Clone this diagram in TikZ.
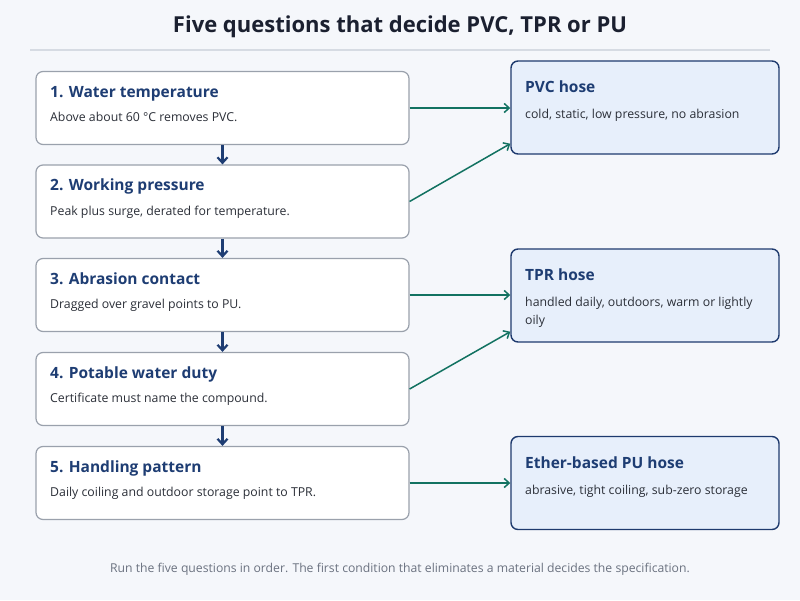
\documentclass[tikz,border=0pt]{standalone}
\usepackage{fontspec}
\setmainfont{Open Sans}
\usetikzlibrary{arrows.meta,calc}
\definecolor{bg}{HTML}{F5F7FB}
\definecolor{titlec}{HTML}{1B2030}
\definecolor{headc}{HTML}{1E3D73}
\definecolor{descc}{HTML}{2B2F38}
\definecolor{qborder}{HTML}{9AA1AC}
\definecolor{rfill}{HTML}{E7EFFB}
\definecolor{rborder}{HTML}{1E3A6E}
\definecolor{greenc}{HTML}{127261}
\definecolor{footc}{HTML}{6B7280}
\definecolor{rulec}{HTML}{D6DBE3}
\tikzset{
  qbox/.style={draw=qborder, line width=1.2pt, fill=white, rounded corners=7pt, minimum width=373pt, minimum height=73pt, inner sep=0pt},
  rbox/.style={draw=rborder, line width=1.4pt, fill=rfill, rounded corners=7pt, minimum width=268pt, minimum height=93pt, inner sep=0pt},
  head/.style={anchor=base west, inner sep=0pt, text=headc, font=\fontsize{15.5}{18}\selectfont\bfseries},
  desc/.style={anchor=base west, inner sep=0pt, text=descc, font=\fontsize{12.3}{15}\selectfont},
  downarrow/.style={draw=headc, line width=2.2pt, -{Straight Barb[length=5.5pt,width=10pt]}},
  garrow/.style={draw=greenc, line width=1.5pt, -{Straight Barb[length=5pt,width=9pt]}}
}
\begin{document}
\begin{tikzpicture}[x=1pt,y=-1pt]
\fill[bg] (0,0) rectangle (800,600);
\useasboundingbox (0,0) rectangle (800,600);
\node[anchor=center, text=titlec, font=\fontsize{22}{25}\selectfont\bfseries] (title) at (400,27) {Five questions that decide PVC, TPR or PU};
\coordinate (rl) at (30,50);
\coordinate (rr) at (770,50);
\draw[rulec, line width=1.2pt] (rl) -- (rr);

\node[qbox] (q1) at (222.5,108) {};
\node[qbox] (q2) at (222.5,201.5) {};
\node[qbox] (q3) at (222.5,295) {};
\node[qbox] (q4) at (222.5,389) {};
\node[qbox] (q5) at (222.5,483) {};

\node[head] (q1h) at (50,97) {1. Water temperature};
\node[desc] (q1d) at (50,121) {Above about 60 °C removes PVC.};
\node[head] (q2h) at (50,190.5) {2. Working pressure};
\node[desc] (q2d) at (50,215) {Peak plus surge, derated for temperature.};
\node[head] (q3h) at (50,284) {3. Abrasion contact};
\node[desc] (q3d) at (50,308.5) {Dragged over gravel points to PU.};
\node[head] (q4h) at (50,378) {4. Potable water duty};
\node[desc] (q4d) at (50,402.5) {Certificate must name the compound.};
\node[head] (q5h) at (50,472) {5. Handling pattern};
\node[desc] (q5d) at (50,496.5) {Daily coiling and outdoor storage point to TPR.};

\node[rbox] (pvc) at (645,107.5) {};
\node[rbox] (tpr) at (645,295.5) {};
\node[rbox] (pu) at (645,483) {};

\node[head] (pvch) at (525,92.5) {PVC hose};
\node[desc] (pvcd) at (525,118.5) {cold, static, low pressure, no abrasion};
\node[head] (tprh) at (525,280.5) {TPR hose};
\node[desc] (tprd1) at (525,306.5) {handled daily, outdoors, warm or lightly};
\node[desc] (tprd2) at (525,324.5) {oily};
\node[head] (puh) at (525,468.5) {Ether-based PU hose};
\node[desc] (pud) at (525,494.5) {abrasive, tight coiling, sub-zero storage};

\draw[downarrow] (q1.south) -- (q2.north);
\draw[downarrow] (q2.south) -- (q3.north);
\draw[downarrow] (q3.south) -- (q4.north);
\draw[downarrow] (q4.south) -- (q5.north);

\draw[garrow] (q1.east) -- (q1.east -| pvc.west);
\draw[garrow] (q2.east) -- ($(pvc.south west)+(0,-11)$);
\draw[garrow] (q3.east) -- (q3.east -| tpr.west);
\draw[garrow] (q4.east) -- ($(tpr.south west)+(0,-11)$);
\draw[garrow] (q5.east) -- (q5.east -| pu.west);

\node[anchor=center, text=footc, font=\fontsize{12.2}{15}\selectfont] (foot) at (400,569) {Run the five questions in order. The first condition that eliminates a material decides the specification.};
\end{tikzpicture}
\end{document}
